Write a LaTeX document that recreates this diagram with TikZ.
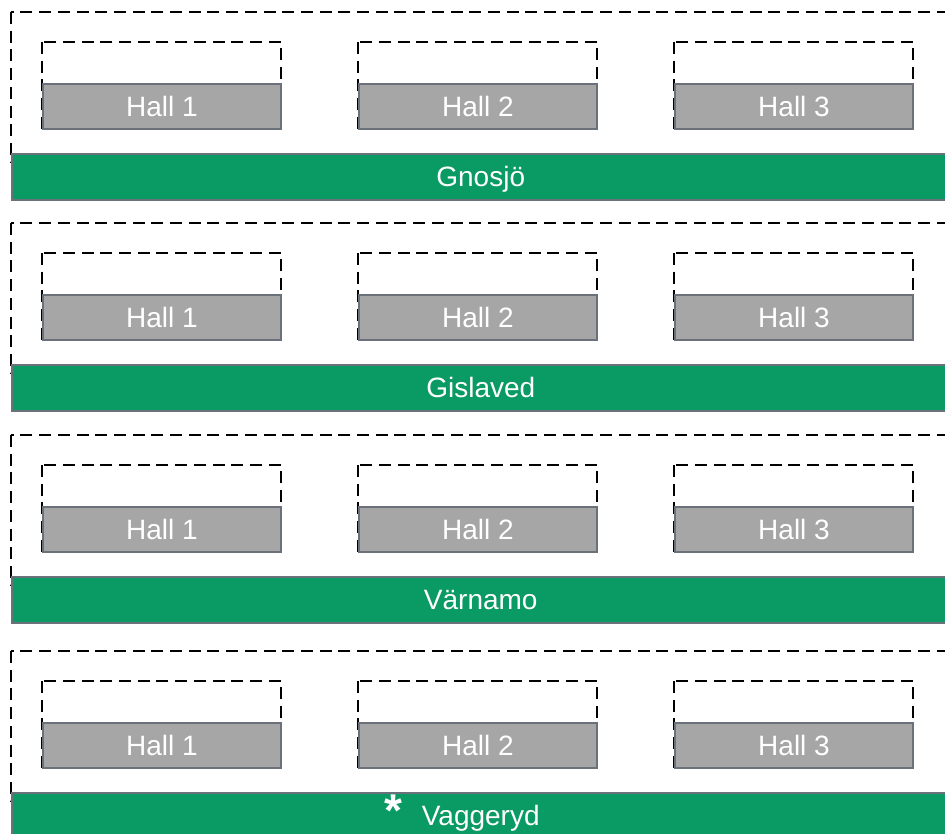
\documentclass[tikz,border=0pt]{standalone}
\usepackage{fontspec}
\setmainfont{Liberation Sans}
\definecolor{bargreen}{HTML}{0A9A63}
\definecolor{hallgray}{HTML}{A6A6A6}
\definecolor{edgegray}{HTML}{6A717B}
\begin{document}
\begin{tikzpicture}[x=1pt,y=-1pt,
  outerbox/.style={draw=black, line width=2.8pt, dash pattern=on 12pt off 6.7pt},
  slotbox/.style={draw=black, line width=2.8pt, dash pattern=on 12pt off 6.7pt},
  hallbox/.style={draw=edgegray, fill=hallgray, line width=2pt, text=white,
    font=\fontsize{28}{30}\selectfont, inner sep=0pt, text height=20pt, text depth=0pt,
    minimum width=238pt, minimum height=45pt, anchor=north west},
  barbox/.style={draw=edgegray, fill=bargreen, line width=1.5pt, text=white,
    font=\fontsize{28}{30}\selectfont, inner sep=0pt, text height=20pt, text depth=0pt,
    minimum width=938pt, minimum height=46pt, anchor=north west},
  startext/.style={text=white, font=\fontsize{46}{46}\selectfont\bfseries, inner sep=0pt,
    text height=33pt, text depth=0pt, anchor=base}]
\useasboundingbox (0,0) rectangle (945,833);
\clip (0,0) rectangle (945,833);
\foreach \t/\name/\lab in {12/a/Gnosjö, 223/b/Gislaved, 435/c/Värnamo, 651/d/Vaggeryd} {
  \draw[outerbox] (11,\t) rectangle (975,\t+150);
  \foreach \x/\i in {42/1, 358/2, 674/3} {
    \draw[slotbox] (\x,\t+30) rectangle (\x+239,\t+116);
    \node[hallbox] (hall\name\i) at (\x,\t+71) {Hall \i};
  }
  \node[barbox] (bar\name) at (11,\t+141) {\lab};
}
\node[startext] (star) at (393,826) {*};
\end{tikzpicture}
\end{document}
